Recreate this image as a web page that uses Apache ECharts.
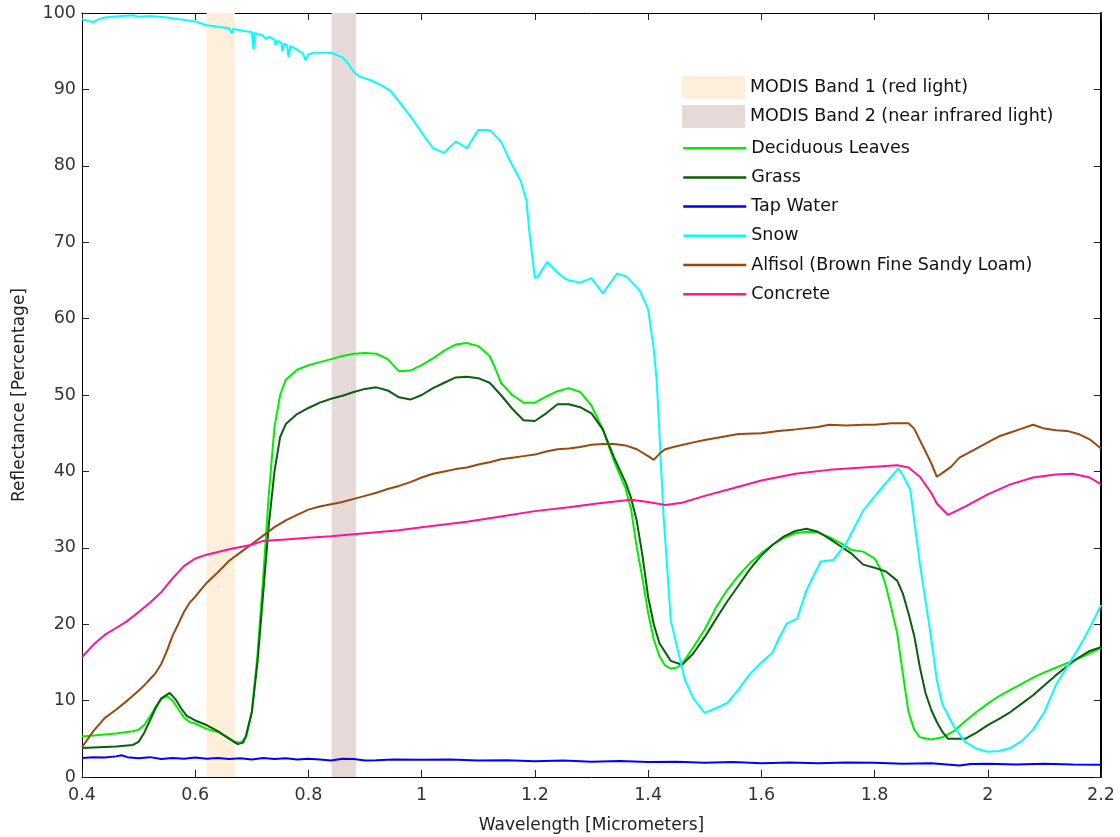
<!DOCTYPE html>
<html>
<head>
<meta charset="utf-8">
<script src="https://cdn.jsdelivr.net/npm/echarts@6/dist/echarts.min.js"></script>
<style>html,body{margin:0;padding:0;background:#fff}#c{width:1120px;height:837px}</style>
</head>
<body>
<div id="c"></div>
<script>
const xTicks = [0.4, 0.6, 0.8, 1, 1.2, 1.4, 1.6, 1.8, 2, 2.2];
const yTicks = [0, 10, 20, 30, 40, 50, 60, 70, 80, 90, 100];
const band1 = [0.62, 0.67];
const band2 = [0.841, 0.884];

const deciduous = [[0.4,5.3],[0.43,5.5],[0.46,5.7],[0.49,6.0],[0.5,6.2],[0.51,6.8],[0.52,7.9],[0.53,9.2],[0.54,10.2],[0.55,10.6],[0.56,10.0],[0.57,8.9],[0.58,7.8],[0.59,7.2],[0.6,7.0],[0.62,6.3],[0.64,5.9],[0.66,5.1],[0.67,4.6],[0.68,4.5],[0.69,5.2],[0.7,8.5],[0.71,16],[0.72,26],[0.73,37],[0.74,45.8],[0.75,50],[0.76,52],[0.78,53.3],[0.8,53.9],[0.82,54.3],[0.84,54.7],[0.86,55.1],[0.88,55.4],[0.9,55.5],[0.92,55.4],[0.94,54.7],[0.96,53.1],[0.98,53.2],[1.0,53.9],[1.02,54.8],[1.04,55.8],[1.06,56.6],[1.08,56.8],[1.1,56.4],[1.12,55.1],[1.13,53.5],[1.14,51.6],[1.16,50.0],[1.18,49.0],[1.2,49.0],[1.22,49.8],[1.24,50.5],[1.26,50.9],[1.28,50.4],[1.3,48.6],[1.32,45.5],[1.34,41.3],[1.36,37.8],[1.37,35.0],[1.38,30.0],[1.39,26.0],[1.4,21.5],[1.41,18],[1.42,15.8],[1.43,14.6],[1.44,14.2],[1.45,14.3],[1.46,14.8],[1.48,17.0],[1.5,19.3],[1.52,22.2],[1.54,24.5],[1.56,26.4],[1.58,28.0],[1.6,29.3],[1.62,30.4],[1.64,31.3],[1.66,31.9],[1.68,32.1],[1.7,32.0],[1.72,31.4],[1.74,30.6],[1.76,29.7],[1.78,29.5],[1.8,28.6],[1.81,27.3],[1.82,25.0],[1.83,22.0],[1.84,18.8],[1.85,13.5],[1.86,8.5],[1.87,6.2],[1.88,5.2],[1.9,4.9],[1.92,5.2],[1.94,6.0],[1.96,7.3],[1.98,8.5],[2.0,9.6],[2.02,10.6],[2.04,11.4],[2.06,12.2],[2.08,13.0],[2.1,13.7],[2.12,14.3],[2.14,14.9],[2.16,15.5],[2.18,16.2],[2.2,16.9]];

const grass = [[0.4,3.8],[0.43,3.9],[0.46,4.0],[0.49,4.2],[0.5,4.6],[0.51,5.8],[0.52,7.4],[0.53,9.0],[0.54,10.3],[0.555,11.0],[0.565,10.2],[0.575,9.0],[0.585,8.0],[0.6,7.4],[0.62,6.8],[0.64,6.0],[0.66,5.0],[0.675,4.3],[0.685,4.5],[0.69,5.5],[0.7,8.5],[0.71,15],[0.72,24],[0.73,33],[0.74,40],[0.75,44.5],[0.76,46.2],[0.78,47.5],[0.8,48.3],[0.82,49.0],[0.84,49.5],[0.86,49.9],[0.88,50.4],[0.9,50.8],[0.92,51.0],[0.94,50.6],[0.96,49.7],[0.98,49.4],[1.0,50.0],[1.02,50.9],[1.04,51.6],[1.06,52.3],[1.08,52.4],[1.1,52.2],[1.12,51.6],[1.14,50.0],[1.16,48.2],[1.18,46.7],[1.2,46.6],[1.22,47.6],[1.24,48.8],[1.26,48.8],[1.28,48.4],[1.3,47.6],[1.32,45.5],[1.34,41.8],[1.36,38.6],[1.37,36.5],[1.38,33.5],[1.39,29],[1.4,23.6],[1.41,20],[1.42,17.5],[1.44,15.2],[1.46,14.7],[1.48,16.2],[1.5,18.3],[1.52,20.7],[1.54,23.0],[1.56,25.1],[1.58,27.2],[1.6,29.0],[1.62,30.4],[1.64,31.5],[1.66,32.2],[1.68,32.5],[1.7,32.1],[1.72,31.2],[1.74,30.2],[1.76,29.2],[1.78,27.8],[1.8,27.4],[1.82,26.9],[1.84,25.7],[1.85,24],[1.86,21.4],[1.87,18.5],[1.88,14.4],[1.89,11],[1.9,8.8],[1.91,7.2],[1.92,5.9],[1.93,5.0],[1.96,5.0],[1.98,5.8],[2.0,6.8],[2.02,7.6],[2.04,8.5],[2.06,9.6],[2.08,10.7],[2.1,12.0],[2.12,13.3],[2.14,14.5],[2.16,15.6],[2.18,16.5],[2.2,17.0]];

const tapWater = [[0.4,2.5],[0.42,2.6],[0.44,2.55],[0.46,2.7],[0.47,2.85],[0.48,2.6],[0.5,2.45],[0.52,2.6],[0.54,2.35],[0.56,2.5],[0.58,2.4],[0.6,2.55],[0.62,2.4],[0.64,2.5],[0.66,2.35],[0.68,2.45],[0.7,2.3],[0.72,2.5],[0.74,2.35],[0.76,2.45],[0.78,2.3],[0.8,2.4],[0.82,2.3],[0.84,2.15],[0.86,2.4],[0.88,2.35],[0.9,2.15],[0.92,2.2],[0.95,2.3],[1.0,2.25],[1.05,2.3],[1.1,2.15],[1.15,2.2],[1.2,2.05],[1.25,2.15],[1.3,2.0],[1.35,2.1],[1.4,1.95],[1.45,2.0],[1.5,1.85],[1.55,1.95],[1.6,1.8],[1.65,1.9],[1.7,1.8],[1.75,1.9],[1.8,1.85],[1.85,1.75],[1.9,1.8],[1.95,1.5],[1.97,1.7],[2.0,1.75],[2.05,1.65],[2.1,1.75],[2.15,1.65],[2.2,1.6]];

const snow = [[0.4,99.2],[0.41,99.0],[0.42,98.8],[0.43,99.2],[0.44,99.4],[0.47,99.6],[0.49,99.7],[0.5,99.5],[0.52,99.6],[0.55,99.4],[0.58,99.1],[0.6,98.9],[0.62,98.4],[0.64,98.2],[0.66,98.0],[0.665,97.3],[0.667,97.9],[0.69,97.6],[0.7,97.5],[0.703,95.2],[0.705,97.4],[0.72,97.0],[0.725,96.6],[0.73,96.9],[0.74,96.5],[0.742,95.8],[0.745,96.4],[0.752,96.1],[0.754,95.0],[0.757,96.0],[0.762,95.8],[0.765,94.2],[0.768,95.7],[0.78,95.2],[0.79,94.7],[0.795,93.8],[0.8,94.6],[0.81,94.8],[0.84,94.8],[0.86,94.2],[0.87,93.4],[0.88,92.3],[0.89,91.7],[0.91,91.2],[0.93,90.5],[0.945,89.8],[0.96,88.4],[0.985,86.0],[1.01,83.3],[1.02,82.3],[1.04,81.7],[1.06,83.2],[1.08,82.3],[1.1,84.7],[1.12,84.7],[1.14,83.2],[1.155,80.8],[1.175,78.0],[1.185,75.5],[1.19,71.5],[1.2,65.3],[1.205,65.5],[1.222,67.4],[1.24,66.0],[1.256,65.1],[1.28,64.7],[1.3,65.3],[1.32,63.3],[1.345,65.9],[1.362,65.5],[1.385,63.7],[1.4,61.2],[1.41,56],[1.415,52],[1.42,45],[1.427,34.5],[1.44,20.5],[1.465,12.7],[1.48,10.3],[1.5,8.4],[1.52,9.0],[1.54,9.7],[1.56,11.5],[1.58,13.5],[1.6,15.0],[1.62,16.3],[1.63,18.0],[1.645,20.1],[1.663,20.7],[1.68,24.5],[1.705,28.2],[1.727,28.4],[1.75,30.6],[1.78,34.9],[1.81,37.6],[1.842,40.4],[1.85,39.5],[1.863,37.6],[1.88,27.9],[1.898,19.2],[1.91,12.7],[1.92,9.5],[1.94,6.6],[1.96,4.6],[1.98,3.7],[2.0,3.3],[2.02,3.4],[2.04,3.8],[2.06,4.7],[2.08,6.2],[2.1,8.5],[2.12,12.0],[2.14,14.4],[2.16,16.8],[2.18,19.5],[2.2,22.5]];

const alfisol = [[0.4,3.9],[0.42,6.0],[0.44,7.7],[0.46,8.8],[0.48,10.0],[0.5,11.3],[0.51,12.0],[0.52,12.8],[0.53,13.6],[0.54,14.8],[0.55,16.5],[0.56,18.5],[0.57,20.0],[0.58,21.6],[0.59,22.8],[0.6,23.6],[0.62,25.4],[0.64,26.8],[0.66,28.3],[0.68,29.4],[0.7,30.5],[0.72,31.6],[0.74,32.7],[0.76,33.6],[0.78,34.3],[0.8,35.0],[0.82,35.4],[0.84,35.7],[0.86,36.0],[0.88,36.4],[0.9,36.8],[0.92,37.2],[0.94,37.7],[0.96,38.1],[0.98,38.6],[1.0,39.2],[1.02,39.7],[1.04,40.0],[1.06,40.3],[1.08,40.5],[1.1,40.9],[1.12,41.2],[1.14,41.6],[1.16,41.8],[1.18,42.0],[1.2,42.2],[1.22,42.6],[1.24,42.9],[1.26,43.0],[1.28,43.2],[1.3,43.5],[1.32,43.6],[1.34,43.6],[1.36,43.4],[1.38,42.9],[1.4,42.0],[1.41,41.5],[1.42,42.3],[1.43,42.9],[1.45,43.3],[1.48,43.8],[1.5,44.1],[1.53,44.5],[1.56,44.9],[1.6,45.0],[1.63,45.3],[1.66,45.5],[1.7,45.8],[1.72,46.1],[1.75,46.0],[1.78,46.1],[1.8,46.1],[1.83,46.3],[1.86,46.3],[1.87,45.6],[1.88,44.1],[1.89,42.6],[1.9,41.1],[1.91,39.3],[1.92,39.8],[1.935,40.6],[1.95,41.8],[1.97,42.6],[2.0,43.8],[2.02,44.6],[2.04,45.1],[2.06,45.6],[2.08,46.1],[2.1,45.6],[2.12,45.4],[2.14,45.3],[2.16,44.9],[2.18,44.2],[2.2,43.0]];

const concrete = [[0.4,15.7],[0.42,17.3],[0.44,18.6],[0.46,19.5],[0.48,20.4],[0.5,21.6],[0.52,22.8],[0.54,24.2],[0.56,26.0],[0.58,27.6],[0.6,28.6],[0.62,29.1],[0.66,29.8],[0.7,30.4],[0.72,30.9],[0.76,31.1],[0.8,31.3],[0.84,31.5],[0.9,31.9],[0.96,32.3],[1.0,32.7],[1.08,33.4],[1.14,34.1],[1.2,34.8],[1.26,35.3],[1.31,35.8],[1.37,36.3],[1.4,36.0],[1.43,35.6],[1.46,35.9],[1.5,36.8],[1.55,37.8],[1.6,38.8],[1.66,39.7],[1.72,40.2],[1.78,40.5],[1.84,40.8],[1.86,40.5],[1.88,39.3],[1.9,37.2],[1.91,35.8],[1.93,34.3],[1.96,35.4],[2.0,37.0],[2.04,38.3],[2.08,39.2],[2.12,39.6],[2.15,39.7],[2.18,39.2],[2.2,38.3]];

const bandNames = ['MODIS Band 1 (red light)', 'MODIS Band 2 (near infrared light)'];
const lineNames = ['Deciduous Leaves', 'Grass', 'Tap Water', 'Snow', 'Alfisol (Brown Fine Sandy Loam)', 'Concrete'];

const FONT = 'DejaVu Sans';
const chart = echarts.init(document.getElementById('c'), null, {renderer: 'canvas'});

function lineSeries(name, data, color) {
  return {name, type: 'line', data, symbol: 'none', showSymbol: false,
    lineStyle: {color, width: 2}, itemStyle: {color}, z: 3, silent: true};
}
function bandSeries(name, range, color) {
  return {name, type: 'line', data: [], itemStyle: {color}, silent: true,
    markArea: {silent: true, itemStyle: {color, opacity: 1}, z: 1,
      data: [[{xAxis: range[0], yAxis: 0}, {xAxis: range[1], yAxis: 100}]]}};
}
const fmtX = v => String(+v.toFixed(1));
const tickLabelStyle = {color: '#333', fontFamily: FONT, fontSize: 17.5};
const legendText = {color: '#111', fontFamily: FONT, fontSize: 17.5};

chart.setOption({
  animation: false,
  backgroundColor: '#fff',
  grid: {left: 82, right: 19, top: 13, bottom: 60, containLabel: false, outerBoundsMode: 'none'},
  xAxis: [
    {type: 'value', min: xTicks[0], max: xTicks[xTicks.length-1], interval: 0.2, position: 'bottom',
     name: 'Wavelength [Micrometers]', nameLocation: 'middle', nameGap: 40,
     nameTextStyle: {color: '#222', fontFamily: FONT, fontSize: 17},
     axisLine: {show: true, onZero: false, lineStyle: {color: '#000', width: 1}},
     axisTick: {show: true, inside: true, length: 7, lineStyle: {color: '#222'}},
     axisLabel: Object.assign({margin: 9, formatter: fmtX}, tickLabelStyle),
     splitLine: {show: false}},
    {type: 'value', min: xTicks[0], max: xTicks[xTicks.length-1], interval: 0.2, position: 'top',
     axisLine: {show: true, onZero: false, lineStyle: {color: '#000', width: 1}},
     axisTick: {show: true, inside: true, length: 7, lineStyle: {color: '#222'}},
     axisLabel: {show: false}, splitLine: {show: false}}
  ],
  yAxis: [
    {type: 'value', min: yTicks[0], max: yTicks[yTicks.length-1], interval: 10, position: 'left',
     name: 'Reflectance [Percentage]', nameLocation: 'middle', nameGap: 54,
     nameTextStyle: {color: '#222', fontFamily: FONT, fontSize: 17},
     axisLine: {show: true, onZero: false, lineStyle: {color: '#000', width: 1}},
     axisTick: {show: true, inside: true, length: 7, lineStyle: {color: '#222'}},
     axisLabel: Object.assign({margin: 6}, tickLabelStyle),
     splitLine: {show: false}},
    {type: 'value', min: yTicks[0], max: yTicks[yTicks.length-1], interval: 10, position: 'right',
     axisLine: {show: true, onZero: false, lineStyle: {color: '#000', width: 2}},
     axisTick: {show: true, inside: true, length: 7, lineStyle: {color: '#222'}},
     axisLabel: {show: false}, splitLine: {show: false}}
  ],
  legend: [
    {orient: 'vertical', left: 682, top: 76, padding: 0,
     itemWidth: 63, itemHeight: 23, itemGap: 6, selectedMode: false,
     textStyle: legendText,
     data: bandNames.map(n => ({name: n, icon: 'rect'}))},
    {orient: 'vertical', left: 682, top: 139, padding: 0,
     itemWidth: 63, itemHeight: 23, itemGap: 10.8, selectedMode: false,
     textStyle: legendText,
     itemStyle: {color: 'rgba(0,0,0,0)', borderWidth: 0, opacity: 0},
     lineStyle: {width: 2.5},
     data: lineNames.map(n => ({name: n}))}
  ],
  series: [
    bandSeries(bandNames[0], band1, '#fdefdc'),
    bandSeries(bandNames[1], band2, '#e8d9d9'),
    lineSeries(lineNames[0], deciduous, '#00ee00'),
    lineSeries(lineNames[1], grass, '#0b5e0b'),
    lineSeries(lineNames[2], tapWater, '#0000ff'),
    lineSeries(lineNames[3], snow, '#00ffff'),
    lineSeries(lineNames[4], alfisol, '#99490f'),
    lineSeries(lineNames[5], concrete, '#ff1493')
  ]
});
</script>
</body>
</html>
